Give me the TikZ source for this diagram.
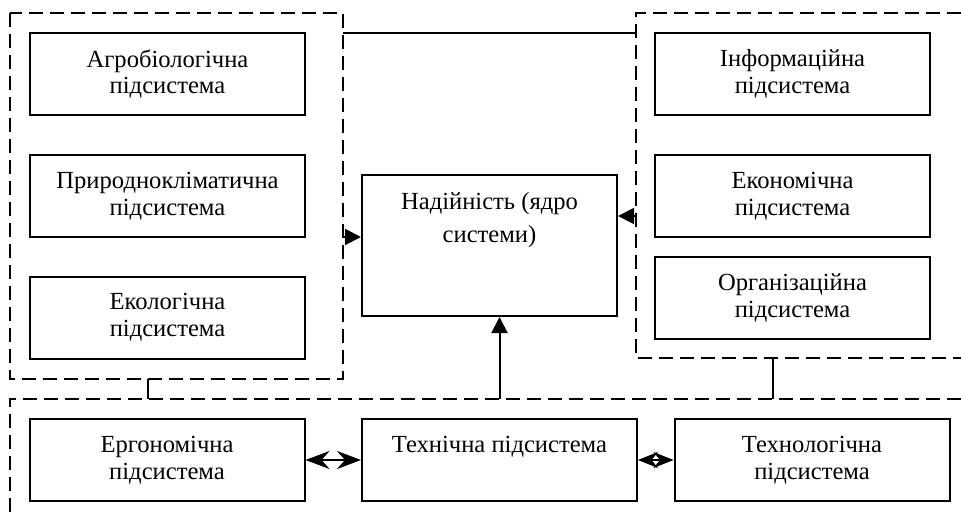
\documentclass[tikz,border=0pt]{standalone}
\usepackage{fontspec}
\setmainfont{Liberation Serif}
\usetikzlibrary{arrows.meta}

\begin{document}
\begin{tikzpicture}[x=0.5pt,y=-0.5pt,
  font=\fontsize{12.3}{13.3}\selectfont,
  sub/.style={draw, line width=1pt, inner sep=0pt, minimum width=137.5pt,
    minimum height=41pt, align=center},
  frame/.style={line width=1pt, dash pattern=on 7pt off 3.5pt},
  link/.style={line width=1pt},
  arr/.style={line width=1pt, -{Triangle[length=8pt,width=8pt]}},
  both/.style={line width=1pt, {Stealth[length=12pt,width=9pt,inset=4pt]}-{Stealth[length=12pt,width=9pt,inset=4pt]}},
  tight/.style={line width=1pt, {Stealth[length=10pt,width=8pt]}-{Stealth[length=10pt,width=8pt]}}]
\useasboundingbox (0,0) rectangle (961,519);

% dashed group frames
\draw[frame] (10,13) rectangle (343,379);
\draw[frame] (961,13) -- (636,13) -- (636,358) -- (961,358);
\draw[frame] (961,399) -- (10,399) -- (10,519);

% left group
\node[sub] (agro) at (167.5,74) {Агробіологічна\\підсистема};
\node[sub] (clim) at (167.5,196) {Природнокліматична\\підсистема};
\node[sub] (eco) at (167.5,317.5) {Екологічна\\підсистема};

% right group
\node[sub] (info) at (792.5,74) {Інформаційна\\підсистема};
\node[sub] (econ) at (792.5,196) {Економічна\\підсистема};
\node[sub] (org) at (792.5,298) {Організаційна\\підсистема};

% core
\node[draw, line width=1pt, minimum width=127.5pt, minimum height=70.5pt] (core) at (489.5,245.5) {};
\node[anchor=base, align=center] (coretext) at (489.5,242) {Надійність (ядро\\[3pt]системи)};

% bottom group
\node[sub] (ergo) at (167,460) {Ергономічна\\підсистема};
\node[sub] (tech) at (499.5,460) {};
\node[anchor=base] (techtext) at (499.5,452) {Технічна підсистема};
\node[sub] (techno) at (812,460) {Технологічна\\підсистема};

% frame edges
\coordinate (ltop) at (343,33);
\coordinate (rtop) at (636,33);
\coordinate (lframe) at (343,237);
\coordinate (rframe) at (636,216);
\coordinate (bframe) at (499.5,399);
\coordinate (lfoot) at (148,379);
\coordinate (rfoot) at (773,358);

\draw[link] (ltop) -- (rtop);
\draw[link] (lfoot) -- (lfoot |- bframe);
\draw[link] (rfoot) -- (rfoot |- bframe);
\draw[arr] (lframe) -- (lframe -| core.west);
\draw[arr] (rframe) -- (rframe -| core.east);
\draw[arr] (bframe) -- (bframe |- core.south);
\draw[both] (ergo) -- (tech);
\draw[tight] (tech) -- (techno);
\end{tikzpicture}
\end{document}
